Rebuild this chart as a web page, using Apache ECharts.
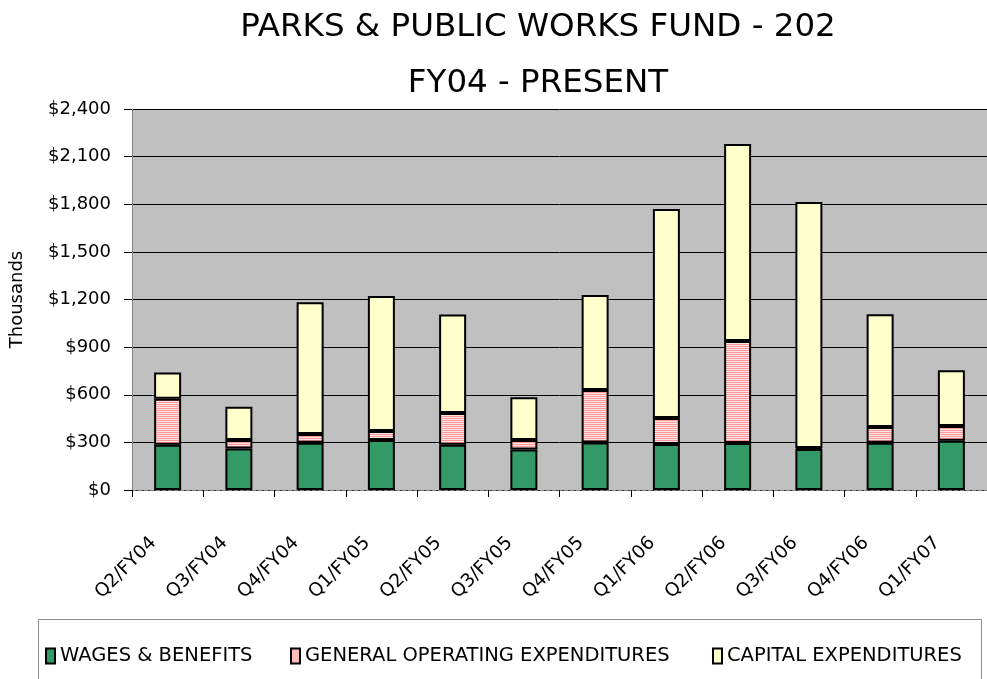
<!DOCTYPE html>
<html>
<head>
<meta charset="utf-8">
<script src="https://cdn.jsdelivr.net/npm/echarts@6/dist/echarts.min.js"></script>
<style>html,body{margin:0;padding:0;background:#fff}#c{width:987px;height:679px}</style>
</head>
<body>
<div id="c"></div>
<script>
const categories = ["Q2/FY04","Q3/FY04","Q4/FY04","Q1/FY05","Q2/FY05","Q3/FY05","Q4/FY05","Q1/FY06","Q2/FY06","Q3/FY06","Q4/FY06","Q1/FY07"];
const wages = [285, 262, 298, 315, 285, 255, 300, 290, 296, 258, 298, 311];
const generalOps = [290, 53, 55, 57, 200, 60, 330, 164, 643, 6, 99, 92];
const capital = [165, 210, 830, 850, 620, 270, 598, 1316, 1241, 1550, 710, 351];
const yTicks = [0, 300, 600, 900, 1200, 1500, 1800, 2100, 2400];
const seriesNames = ['WAGES & BENEFITS', 'GENERAL OPERATING EXPENDITURES', 'CAPITAL EXPENDITURES'];

const FONT = "DejaVu Sans";
const pc = document.createElement('canvas');
pc.width = 4; pc.height = 2;
const pctx = pc.getContext('2d');
pctx.fillStyle = '#FF9999'; pctx.fillRect(0,0,4,1);
pctx.fillStyle = '#FFE4E4'; pctx.fillRect(0,1,4,1);
const pinkPattern = {image: pc, repeat: 'repeat'};

const chart = echarts.init(document.getElementById('c'), null, {renderer: 'canvas'});
const barStyle = (color) => ({color: color, borderColor: '#000', borderWidth: 2});
const legendText = {fontFamily: FONT, fontSize: 19.5, color: '#000'};
const mkLegend = (left, name) => ({
  left: left, top: 641, itemWidth: 9, itemHeight: 15, icon: 'rect', itemGap: 0,
  textStyle: legendText, data: [name]
});
chart.setOption({
  animation: false,
  backgroundColor: '#fff',
  title: [
    {text: 'PARKS & PUBLIC WORKS FUND - 202', left: 533, top: 6, textAlign: 'center',
     textStyle: {fontFamily: FONT, fontSize: 32.5, fontWeight: 'normal', color: '#000'}},
    {text: 'FY04 - PRESENT', left: 533, top: 62, textAlign: 'center',
     textStyle: {fontFamily: FONT, fontSize: 32.5, fontWeight: 'normal', color: '#000'}}
  ],
  graphic: [{type: 'rect', shape: {x: 38.5, y: 619.5, width: 943, height: 80},
    style: {fill: 'none', stroke: '#8a8a8a', lineWidth: 1}, z: 0}],
  legend: [mkLegend(40, seriesNames[0]), mkLegend(285, seriesNames[1]), mkLegend(707, seriesNames[2])],
  grid: {left: 131.5, right: -7, top: 109, bottom: 189, show: true, backgroundColor: '#C0C0C0', borderWidth: 0},
  xAxis: {
    type: 'category', data: categories, boundaryGap: true,
    axisLine: {lineStyle: {color: '#808080', width: 1, type: 'dashed'}},
    axisTick: {show: true, alignWithLabel: false, length: 7, lineStyle: {color: '#000'}},
    axisLabel: {rotate: 45, fontFamily: FONT, fontSize: 18.5, color: '#000', margin: 36, interval: 0,
      formatter: v => v + '{s|}', rich: {s: {width: 20}}}
  },
  yAxis: {
    type: 'value', min: 0, max: 2400, interval: 300,
    name: 'Thousands', nameLocation: 'middle', nameGap: 106, nameRotate: 90,
    nameTextStyle: {fontFamily: FONT, fontSize: 18, color: '#000'},
    axisLine: {show: true, lineStyle: {color: '#808080'}},
    axisTick: {show: true, length: 8, inside: false, lineStyle: {color: '#000'}},
    splitLine: {lineStyle: {color: '#000', width: 1}},
    axisLabel: {fontFamily: FONT, fontSize: 18, color: '#000', margin: 21,
      formatter: v => yTicks.includes(v) ? '$' + v.toLocaleString('en-US') : ''}
  },
  series: [
    {name: seriesNames[0], type: 'bar', stack: 't', data: wages, barWidth: 27, itemStyle: barStyle('#339966')},
    {name: seriesNames[1], type: 'bar', stack: 't', data: generalOps, barWidth: 27, itemStyle: barStyle(pinkPattern)},
    {name: seriesNames[2], type: 'bar', stack: 't', data: capital, barWidth: 27, itemStyle: barStyle('#FFFFCC')}
  ]
});
</script>
</body>
</html>
